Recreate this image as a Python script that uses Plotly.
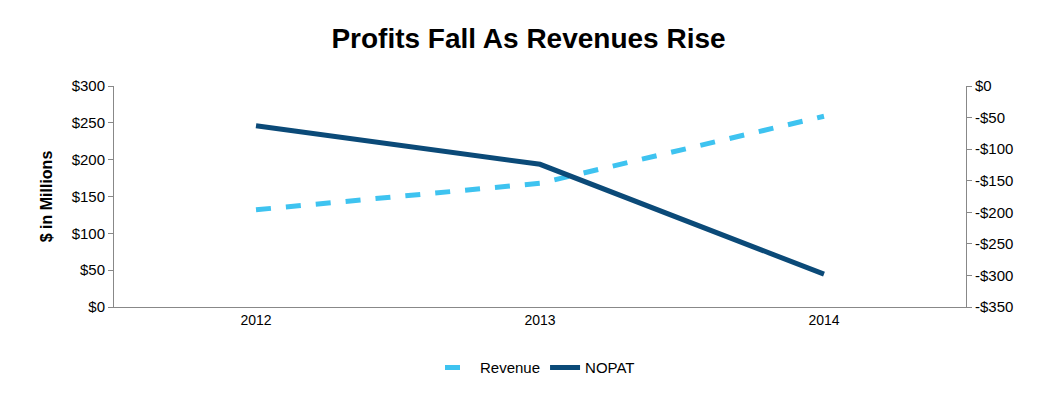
import plotly.graph_objects as go

# chart data
years = ['2012', '2013', '2014']
revenue = [132, 168, 259]
nopat = [-63, -124, -298]

left_ticks = [0, 50, 100, 150, 200, 250, 300]
right_ticks = [0, -50, -100, -150, -200, -250, -300, -350]

fig = go.Figure()
fig.add_trace(go.Scatter(x=years, y=revenue, name='Revenue', mode='lines',
                         line=dict(color='#3EC3F0', width=5, dash='dash')))
fig.add_trace(go.Scatter(x=years, y=nopat, name='NOPAT', mode='lines', yaxis='y2',
                         line=dict(color='#0B4A78', width=5)))

axis_line = dict(showline=True, linecolor='#888888', linewidth=1, showgrid=False,
                 zeroline=False, ticks='outside', ticklen=5, tickcolor='#888888')

fig.update_layout(
    width=1041, height=407,
    paper_bgcolor='white', plot_bgcolor='white',
    font=dict(family='Liberation Sans, Arial', size=15, color='black'),
    title=dict(text='<b>Profits Fall As Revenues Rise</b>', x=0.5, y=0.95,
               xanchor='center', font=dict(size=28)),
    margin=dict(l=106, r=83, t=78, b=108),
    xaxis=dict(type='category', range=[-0.5, 2.5], showline=True, linecolor='#888888',
               showgrid=False, ticks='', tickfont=dict(size=14)),
    yaxis=dict(range=[0, 300], tickvals=left_ticks,
               ticktext=['$' + str(v) for v in left_ticks],
               title=dict(text='<b>$ in Millions</b>', font=dict(size=16)), **axis_line),
    yaxis2=dict(range=[-350, 0], overlaying='y', side='right', tickvals=right_ticks,
                ticktext=['$0'] + ['-$' + str(-v) for v in right_ticks[1:]], **axis_line),
    legend=dict(orientation='h', x=0.5, xanchor='center', y=-0.2, yanchor='top',
                font=dict(size=15)),
    showlegend=True,
)

fig.write_html("out.html")
